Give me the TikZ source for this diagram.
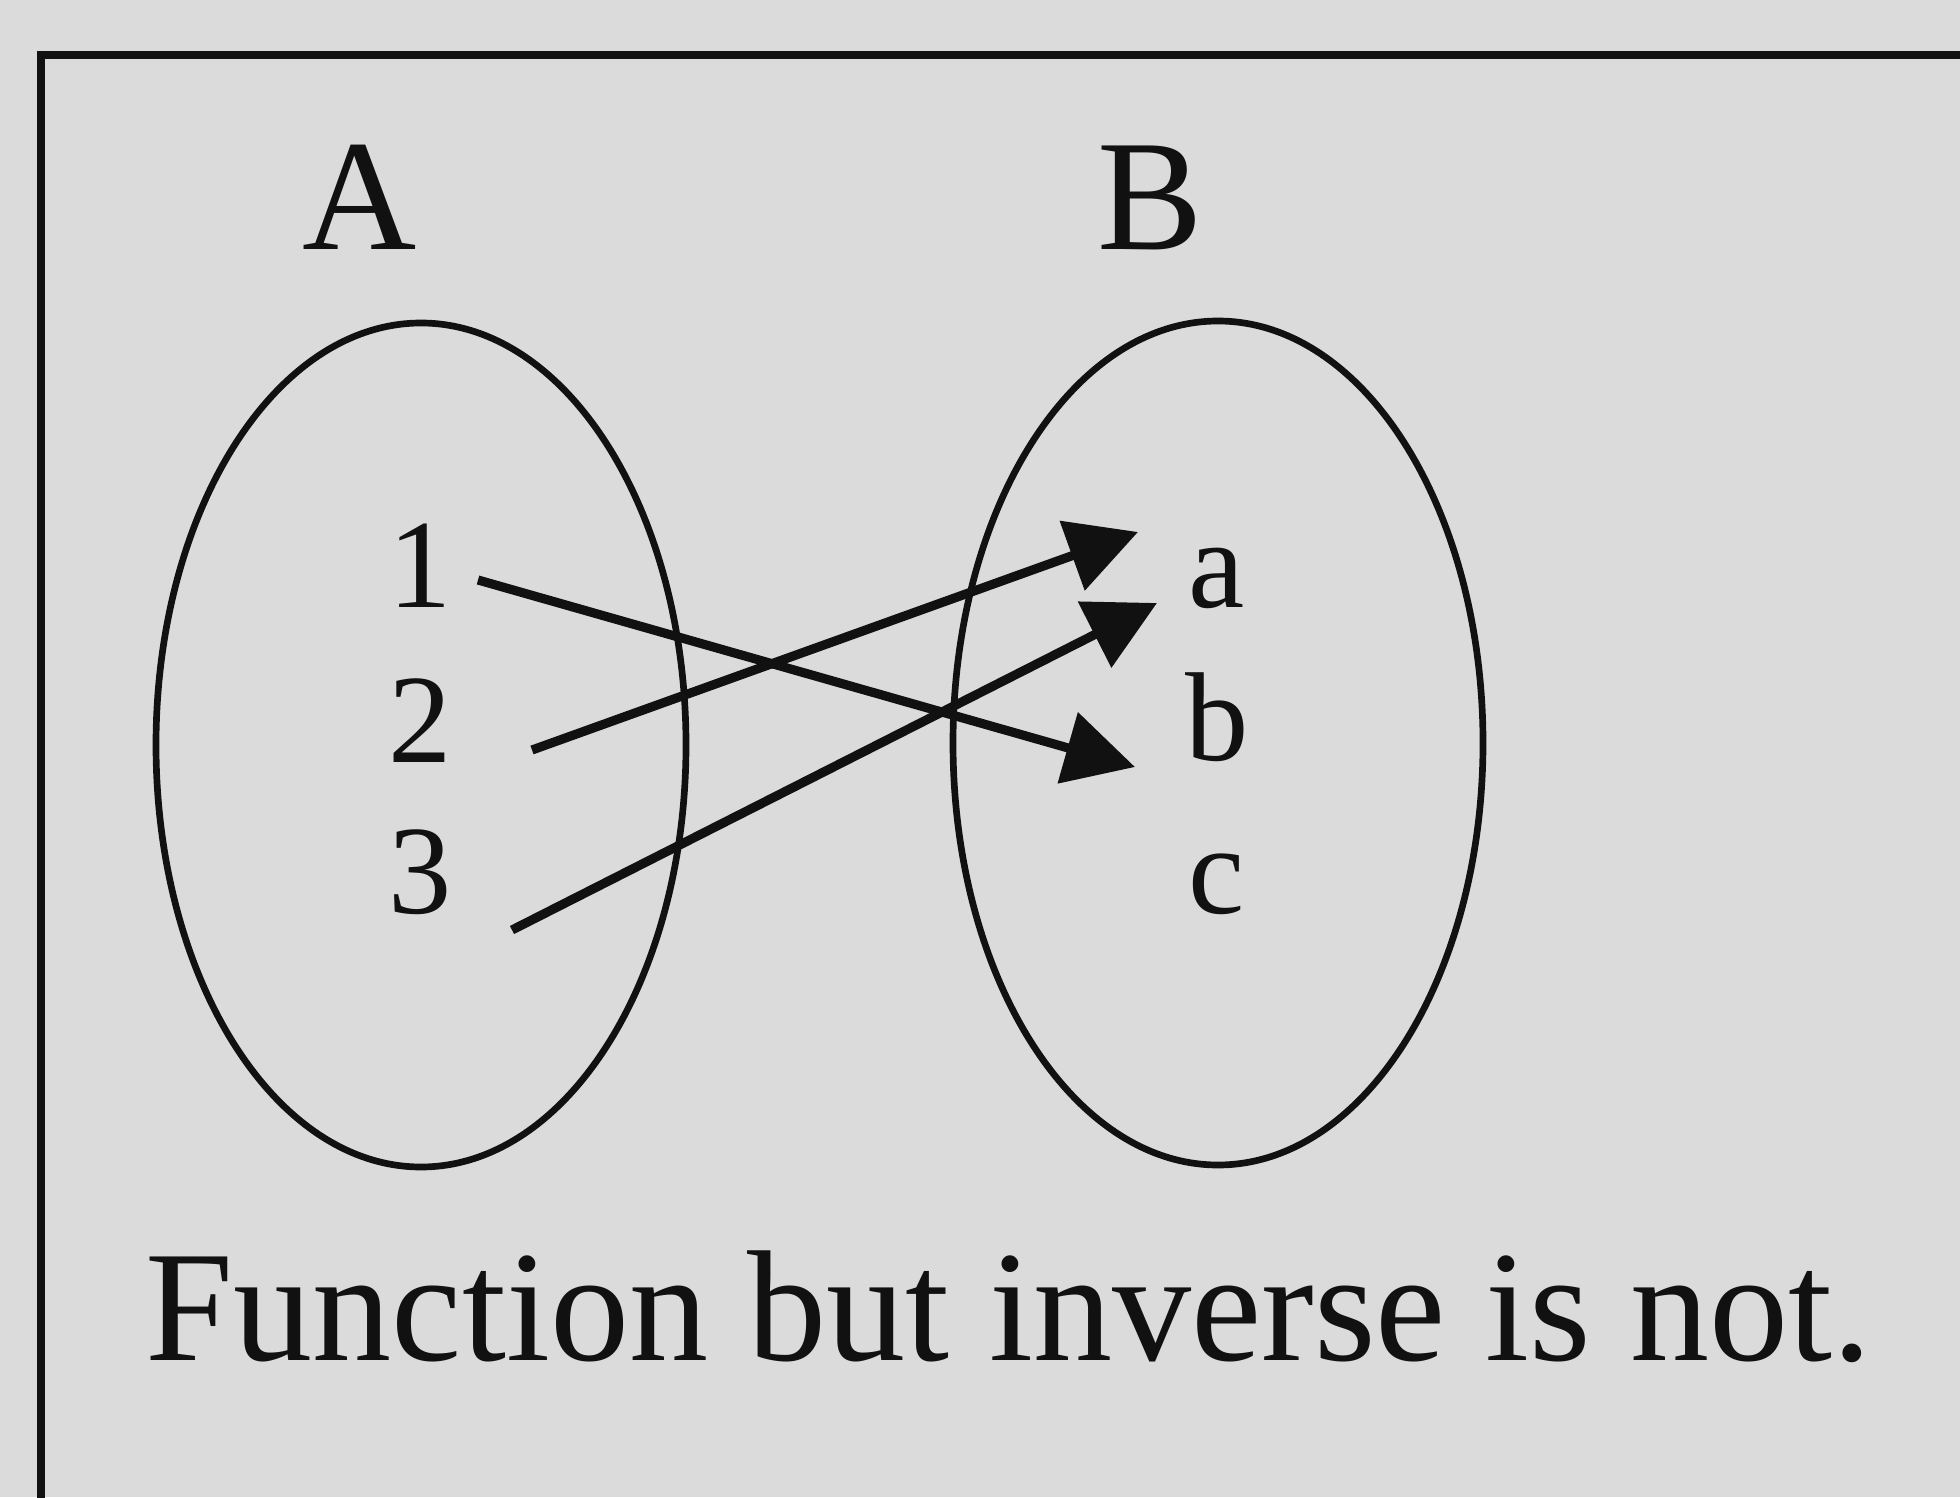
\documentclass[tikz,border=0pt]{standalone}
\usepackage{fontspec}
\setmainfont{Liberation Serif}
\usetikzlibrary{shapes.geometric, arrows.meta}
\definecolor{PageGray}{HTML}{DBDBDB}
\definecolor{InkBlack}{HTML}{111111}
\tikzset{
  setbox/.style={ellipse, draw=InkBlack, line width=1.9pt,
    minimum width=5.3cm, minimum height=8.44cm, inner sep=0pt},
  setname/.style={font=\fontsize{45}{54}\selectfont, text=InkBlack,
    anchor=base, inner sep=0pt},
  element/.style={font=\fontsize{36}{43}\selectfont, text=InkBlack,
    anchor=base, inner sep=0pt},
  maparrow/.style={-{Triangle[length=0.7cm, width=0.72cm]},
    line width=2.6pt, color=InkBlack},
  caption/.style={font=\fontsize{45}{54}\selectfont, text=InkBlack,
    anchor=base, inner sep=0pt},
  frame/.style={line width=2.4pt, color=InkBlack},
}
\begin{document}
\begin{tikzpicture}

  % Page and frame
  \useasboundingbox (0,0) rectangle (19.6,14.97);
  \fill[PageGray] (0,0) rectangle (19.6,14.97);
  \draw[frame] (0.41,-0.1) |- (19.7,14.42);

  % Sets
  \node[setbox] (setA) at (4.21,7.52) {};
  \node[setbox] (setB) at (12.18,7.54) {};
  \node[setname] (nameA) at (3.60,12.47) {A};
  \node[setname] (nameB) at (11.50,12.47) {B};

  % Elements of A
  \node[element] (one)   at (4.20,8.90) {1};
  \node[element] (two)   at (4.20,7.35) {2};
  \node[element] (three) at (4.20,5.84) {3};

  % Elements of B
  \node[element] (a) at (12.17,8.90) {a};
  \node[element] (b) at (12.17,7.37) {b};
  \node[element] (c) at (12.17,5.84) {c};

  % Arrow ends
  \coordinate (tail1) at (4.78,9.17);
  \coordinate (head1) at (11.35,7.30);
  \coordinate (tail2) at (5.32,7.47);
  \coordinate (head2) at (11.38,9.65);
  \coordinate (tail3) at (5.12,5.67);
  \coordinate (head3) at (11.57,8.94);

  % Mapping
  \draw[maparrow] (tail1) -- (head1);
  \draw[maparrow] (tail2) -- (head2);
  \draw[maparrow] (tail3) -- (head3);

  % Caption
  \node[caption] (note) at (10.09,1.37) {Function but inverse is not.};

\end{tikzpicture}
\end{document}
